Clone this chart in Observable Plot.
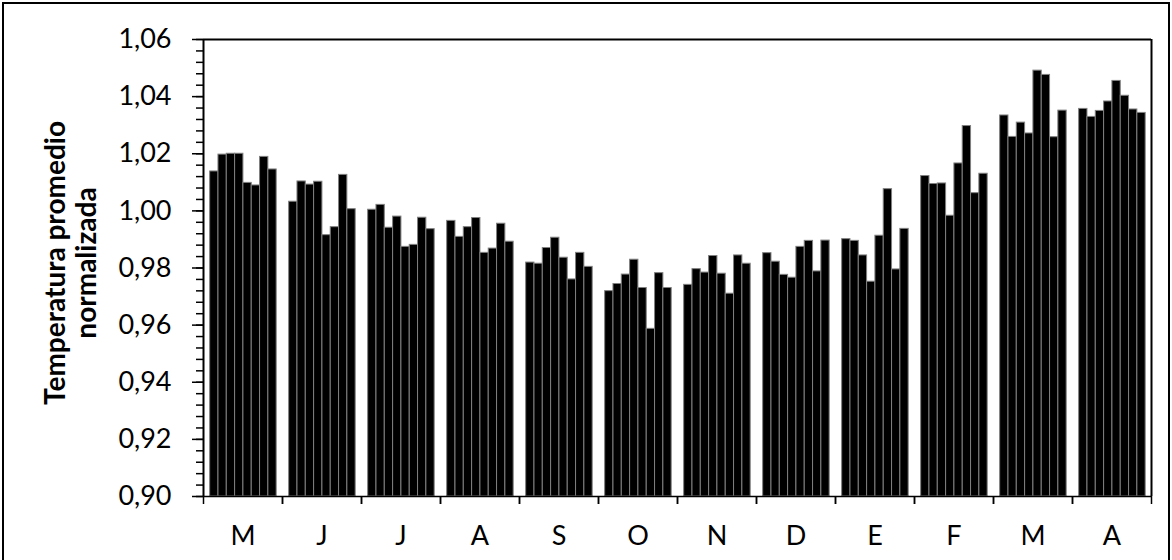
<!DOCTYPE html>
<html>
<head>
<meta charset="utf-8">
<script src="https://cdn.jsdelivr.net/npm/d3@7"></script>
<script src="https://cdn.jsdelivr.net/npm/@observablehq/plot@0.6"></script>
<style>
  html, body { margin: 0; padding: 0; background: #fff; }
  #wrap { position: relative; width: 1172px; height: 560px; overflow: hidden; background: #fff; font-family: Lato, "Open Sans", sans-serif; }
  #border { position: absolute; left: 2px; top: 2px; width: 1164px; height: 600px; border: 2px solid #000; pointer-events: none; }
  #ytitle { position: absolute; left: 70px; top: 263px; transform: translate(-50%, -50%) rotate(-90deg); text-align: center; white-space: nowrap; font-weight: bold; font-size: 28px; line-height: 31px; color: #000; }
  #chart svg { display: block; }
</style>
</head>
<body>
<div id="wrap">
  <div id="chart"></div>
  <div id="ytitle">Temperatura promedio<br>normalizada</div>
  <div id="border"></div>
</div>
<script>
// Month category labels (May ... April)
const monthLabels = ["M", "J", "J", "A", "S", "O", "N", "D", "E", "F", "M", "A"];
// Y axis tick values
const yMajorTicks = [0.90, 0.92, 0.94, 0.96, 0.98, 1.00, 1.02, 1.04, 1.06];
const yMinorTicks = d3.range(0, 41).map(k => +(0.90 + k * 0.004).toFixed(3));

// Normalized mean temperature, 8 bars per month
const vMay = [1.0138, 1.0197, 1.0200, 1.0200, 1.0098, 1.0089, 1.0189, 1.0145];
const vJun = [1.0032, 1.0103, 1.0092, 1.0102, 0.9915, 0.9943, 1.0126, 1.0006];
const vJul = [1.0004, 1.0021, 0.9941, 0.9980, 0.9874, 0.9881, 0.9976, 0.9936];
const vAgo = [0.9965, 0.9909, 0.9943, 0.9975, 0.9853, 0.9868, 0.9955, 0.9892];
const vSep = [0.9819, 0.9815, 0.9870, 0.9906, 0.9836, 0.9760, 0.9853, 0.9804];
const vOct = [0.9719, 0.9744, 0.9777, 0.9829, 0.9730, 0.9587, 0.9782, 0.9730];
const vNov = [0.9741, 0.9796, 0.9784, 0.9842, 0.9780, 0.9710, 0.9844, 0.9815];
const vDic = [0.9852, 0.9822, 0.9776, 0.9766, 0.9874, 0.9895, 0.9788, 0.9896];
const vEne = [0.9901, 0.9895, 0.9844, 0.9752, 0.9913, 1.0076, 0.9795, 0.9937];
const vFeb = [1.0122, 1.0094, 1.0096, 0.9983, 1.0166, 1.0297, 1.0062, 1.0130];
const vMar = [1.0334, 1.0259, 1.0309, 1.0271, 1.0491, 1.0476, 1.0258, 1.0351];
const vAbr = [1.0357, 1.0329, 1.0350, 1.0383, 1.0455, 1.0403, 1.0355, 1.0343];

const series = [vMay, vJun, vJul, vAgo, vSep, vOct, vNov, vDic, vEne, vFeb, vMar, vAbr];
const data = series.flatMap((vals, m) => vals.map((v, i) => ({m, i, v})));

const yDomain = [0.90, 1.06];
const xDomain = [-0.8, 8.7];
const months = d3.range(monthLabels.length);
const fmt = d => d.toFixed(2).replace(".", ",");

const chart = Plot.plot({
  width: 1172,
  height: 560,
  marginLeft: 198,
  marginRight: 17,
  marginTop: 39,
  marginBottom: 64,
  style: {fontFamily: "Lato, 'Open Sans', sans-serif", fontSize: "27px", color: "#000", background: "transparent"},
  fx: {domain: months, padding: 0},
  x: {domain: xDomain},
  y: {domain: yDomain},
  marks: [
    Plot.rect(data, {
      fx: "m",
      x1: "i",
      x2: d => d.i + 1,
      y1: yDomain[0],
      y2: "v",
      fill: "#000",
      stroke: "#808080",
      strokeWidth: 1
    }),
    // plot-area box: bottom axis line, top border, left axis line, right border
    Plot.ruleY([yDomain[0]], {stroke: "#000", strokeWidth: 1.5}),
    Plot.ruleY([yDomain[1]], {stroke: "#000", strokeWidth: 2}),
    Plot.ruleX([{fx: months[0], x: xDomain[0]}], {fx: "fx", x: "x", stroke: "#000", strokeWidth: 2}),
    Plot.ruleX([{fx: months[months.length - 1], x: xDomain[1]}], {fx: "fx", x: "x", stroke: "#000", strokeWidth: 2}),
    // category boundary ticks
    Plot.axisX({ticks: xDomain, tickSize: 8, tickFormat: () => "", label: null, strokeWidth: 1.5}),
    // month labels
    Plot.axisFx({anchor: "bottom", tickSize: 0, tickPadding: 29, tickFormat: i => monthLabels[i], label: null}),
    // y axis
    Plot.axisY({ticks: yMinorTicks, tickSize: 7, tickFormat: () => "", label: null, strokeWidth: 1.5}),
    Plot.axisY({ticks: yMajorTicks, tickSize: 11, tickPadding: 21, tickFormat: fmt, label: null, strokeWidth: 1.5})
  ]
});
document.getElementById("chart").appendChild(chart);
</script>
</body>
</html>
